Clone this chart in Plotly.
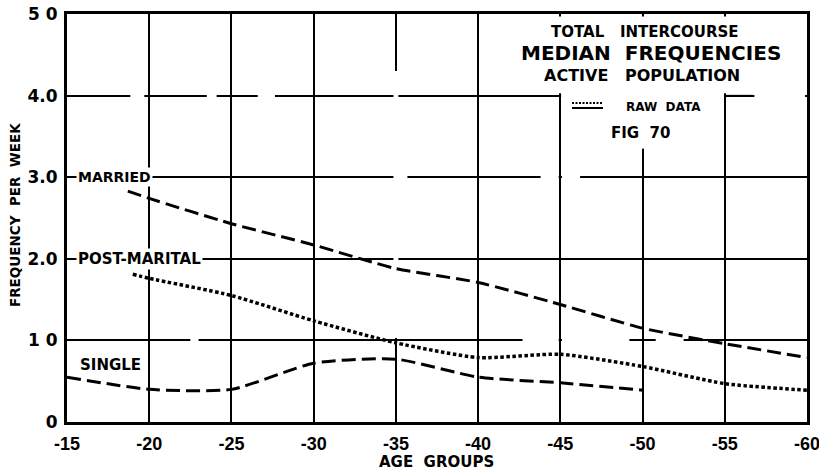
import plotly.graph_objects as go

# ---- data ----
x_ticks = [15, 20, 25, 30, 35, 40, 45, 50, 55, 60]
x_tick_labels = ["-15", "-20", "-25", "-30", "-35", "-40", "-45", "-50", "-55", "-60"]
y_ticks = [0, 1, 2, 3, 4, 5]
y_tick_labels = ["0", "1 0", "2.0", "3.0", "4.0", "5 0"]

married_age = [18.7, 20, 25, 30, 35, 40, 45, 50, 55, 60]
married_freq = [2.83, 2.74, 2.43, 2.17, 1.88, 1.71, 1.44, 1.15, 0.96, 0.79]

postmarital_age = [19, 20, 25, 30, 35, 40, 45, 50, 55, 60]
postmarital_freq = [1.81, 1.76, 1.55, 1.24, 0.97, 0.79, 0.83, 0.68, 0.47, 0.39]

single_age = [15, 20, 25, 30, 35, 40, 45, 50]
single_freq = [0.55, 0.40, 0.40, 0.72, 0.77, 0.55, 0.48, 0.39]

FONT = "DejaVu Sans"
TICKFONT = "Liberation Sans"
W, H = 819, 474
ML, MR, MT, MB = 67, 12, 14, 52
PW, PH = W - ML - MR, H - MT - MB

fig = go.Figure()

fig.add_trace(go.Scatter(x=married_age, y=married_freq, mode="lines",
                         line=dict(color="black", width=3, dash="14px,6px", shape="spline", smoothing=0.6),
                         hoverinfo="skip", showlegend=False))
fig.add_trace(go.Scatter(x=postmarital_age, y=postmarital_freq, mode="lines",
                         line=dict(color="black", width=3.5, dash="3.5px,2.5px", shape="spline", smoothing=0.6),
                         hoverinfo="skip", showlegend=False))
fig.add_trace(go.Scatter(x=single_age, y=single_freq, mode="lines",
                         line=dict(color="black", width=3, dash="14px,6px", shape="spline", smoothing=0.6),
                         hoverinfo="skip", showlegend=False))

# white masks reproducing the gaps in the hand-drawn grid
masks = [
    (40.12, 59.88, 4.03, 4.97),   # title area
    (45.05, 54.95, 3.96, 4.04),   # 4.0 line behind legend
    (56.8, 59.88, 3.96, 4.04),
    (49.85, 50.15, 3.35, 4.0),    # -50 vertical top
    (34.85, 35.15, 1.03, 4.3),    # -35 vertical middle
    (18.85, 19.7, 3.96, 4.04),
    (23.5, 24.1, 3.96, 4.04),
    (26.6, 27.65, 3.96, 4.04),
    (43.8, 44.9, 2.96, 3.04),
    (45.1, 46.2, 2.96, 3.04),
    (35.1, 35.7, 2.96, 3.04),
    (42.7, 44.9, 0.96, 1.04),
    (45.1, 49.2, 0.96, 1.04),
    (50.8, 52.5, 0.96, 1.04),
    (22.5, 23.0, 0.96, 1.04),
]
for x0, x1, y0, y1 in masks:
    fig.add_shape(type="rect", x0=x0, x1=x1, y0=y0, y1=y1, xref="x", yref="y",
                  fillcolor="white", line=dict(width=0), layer="between")

fig.add_shape(type="line", x0=55, x1=56.7, y0=4.0, y1=4.0, line=dict(color="black", width=1.5), layer="between")

# page pixel -> paper (plot-area) coordinates
px = lambda v: (v - ML) / PW
py = lambda v: (H - MB - v) / PH


def add_text(text, x, y, size, xref="paper", yref="paper", xanchor="center", bg=None, angle=0):
    fig.add_annotation(text=text, x=x, y=y, xref=xref, yref=yref, xanchor=xanchor,
                       yanchor="middle", bgcolor=bg, textangle=angle, showarrow=False,
                       borderpad=1,
                       font=dict(family=FONT, color="black", weight="bold", size=size))

# title block
add_text("TOTAL   INTERCOURSE", px(645), py(32), 15)
add_text("MEDIAN  FREQUENCIES", px(651), py(53), 20)
add_text("ACTIVE   POPULATION", px(642), py(75), 16)
add_text("RAW  DATA", px(663), py(107), 12)
add_text("FIG  70", px(640), py(133), 15)

# legend sample
fig.add_shape(type="line", xref="paper", yref="paper", x0=px(572), x1=px(603), y0=py(103), y1=py(103),
              line=dict(color="black", width=2, dash="2px,1.5px"))
fig.add_shape(type="line", xref="paper", yref="paper", x0=px(572), x1=px(603), y0=py(108), y1=py(108),
              line=dict(color="black", width=2))

# series labels
add_text("MARRIED", 15.55, 3.0, 14, xref="x", yref="y", xanchor="left", bg="white")
add_text("POST-MARITAL", 15.55, 2.0, 15, xref="x", yref="y", xanchor="left", bg="white")
add_text("SINGLE", 15.65, 0.7, 15, xref="x", yref="y", xanchor="left")

# axis titles
add_text("AGE  GROUPS", px(436), py(462), 15)
add_text("FREQUENCY  PER  WEEK", px(15), py(215), 13.5, angle=-90)

fig.update_xaxes(range=[15, 60], tickvals=x_ticks, ticktext=x_tick_labels, automargin=False,
                 showgrid=True, gridcolor="black", gridwidth=1.5,
                 showline=True, linecolor="black", linewidth=3, mirror=True,
                 ticks="", ticklabelstandoff=3, zeroline=False, ticklabeloverflow="allow",
                 tickfont=dict(family=TICKFONT, size=18, color="black", weight="bold"))
fig.update_yaxes(range=[0, 5], tickvals=y_ticks, ticktext=y_tick_labels, automargin=False,
                 showgrid=True, gridcolor="black", gridwidth=1.5,
                 showline=True, linecolor="black", linewidth=3, mirror=True,
                 ticks="", ticklabelstandoff=3, zeroline=False, ticklabeloverflow="allow",
                 tickfont=dict(family=FONT, size=17, color="black", weight="bold"))

fig.update_layout(width=W, height=H, margin=dict(l=ML, r=MR, t=MT, b=MB),
                  plot_bgcolor="white", paper_bgcolor="white", showlegend=False)

fig.write_html("out.html", config={"displayModeBar": False},
               post_script="document.body.style.margin='0';")
